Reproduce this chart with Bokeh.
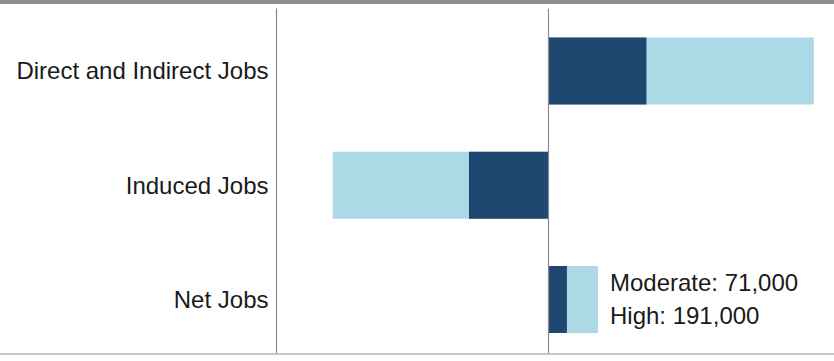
from bokeh.plotting import figure
from bokeh.models import Range1d, FixedTicker, Span, ColumnDataSource
from bokeh.embed import file_html
from bokeh.resources import INLINE
from bokeh.core.properties import value

# Data (jobs)
categories = ["Direct and Indirect Jobs", "Induced Jobs", "Net Jobs"]
moderate = [378000, -307000, 71000]
high = [1024000, -833000, 191000]

DARK = "#1e4870"
LIGHT = "#add8e6"
FONT = "Liberation Sans"

n = len(categories)
ypos = [n - 1 - i for i in range(n)]  # first category on top

src = ColumnDataSource(dict(y=ypos, cat=categories, moderate=moderate, high=high,
                            zero=[0] * n))

p = figure(width=834, height=355, output_backend="svg", toolbar_location=None,
           x_axis_location=None,
           x_range=Range1d(-1049920, 1073080), y_range=Range1d(-0.49, 2.547),
           min_border_left=276, min_border_right=8, min_border_top=4,
           min_border_bottom=4,
           styles={"border-top": "4px solid #8f8f8f",
                   "border-bottom": "2px solid #c8c8c8"})
p.outline_line_color = None
p.xgrid.visible = False
p.ygrid.visible = False
p.background_fill_color = "white"
p.border_fill_color = "white"

bar_h = 0.587
p.hbar(y="y", left="zero", right="high", height=bar_h, source=src,
       fill_color=LIGHT, line_color=None)
p.hbar(y="y", left="zero", right="moderate", height=bar_h, source=src,
       fill_color=DARK, line_color=None)

p.add_layout(Span(location=0, dimension="height", line_color="#8a8a8a", line_width=1.2))

ax = p.yaxis[0]
ax.ticker = FixedTicker(ticks=ypos)
ax.major_label_overrides = {y: c for y, c in zip(ypos, categories)}
ax.major_tick_line_color = None
ax.minor_tick_line_color = None
ax.axis_line_color = "#8a8a8a"
ax.axis_line_width = 1.2
ax.major_label_standoff = 2
ax.major_label_text_font = FONT
ax.major_label_text_font_size = "24px"
ax.major_label_text_color = "#1a1a1a"

# Net jobs annotation
net_i = categories.index("Net Jobs")
p.text(x=[high[net_i]], y=[ypos[net_i]], text=[f"Moderate: {moderate[net_i]:,}"],
       x_offset=12, y_offset=-17, text_baseline="alphabetic", text_align="left",
       text_font=value(FONT), text_font_size="24px", text_color="#1a1a1a")
p.text(x=[high[net_i]], y=[ypos[net_i]], text=[f"High: {high[net_i]:,}"],
       x_offset=12, y_offset=16, text_baseline="alphabetic", text_align="left",
       text_font=value(FONT), text_font_size="24px", text_color="#1a1a1a")

open("out.html", "w").write(file_html(p, INLINE))
